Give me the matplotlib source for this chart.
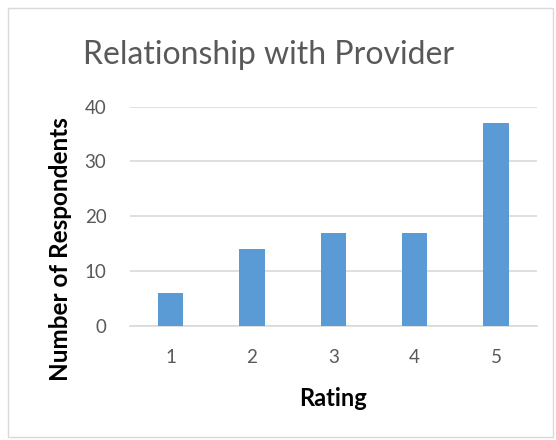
import matplotlib
matplotlib.use("Agg")
import matplotlib.pyplot as plt
from matplotlib.patches import Rectangle

categories = ["1", "2", "3", "4", "5"]
values = [6, 14, 17, 17, 37]
yticks = [0, 10, 20, 30, 40]

plt.rcParams['font.family'] = ['Lato', 'DejaVu Sans']

W, H = 556, 440
fig = plt.figure(figsize=(W/100, H/100), dpi=100)
ax = fig.add_axes([130/W, 1-325.7/H, (536.7-130)/W, (325.7-106.7)/H])

x = list(range(len(categories)))
ax.bar(x, values, width=0.31, color="#5B9BD5", zorder=3)
ax.set_xlim(-0.5, len(categories)-0.5)
ax.set_ylim(0, 40)
ax.set_yticks(yticks)
ax.set_xticks(x)
ax.set_xticklabels(categories)
ax.grid(axis='y', color='#D9D9D9', linewidth=1.2, zorder=0)
for s in ['top', 'right', 'left']:
    ax.spines[s].set_visible(False)
ax.spines['bottom'].set_color('#D9D9D9')
ax.spines['bottom'].set_linewidth(1.2)
ax.tick_params(axis='both', length=0, labelsize=13.5, colors='#595959')
ax.tick_params(axis='x', pad=17)
ax.tick_params(axis='y', pad=17)

fig.text(269/W, 1-55/H, "Relationship with Provider", ha='center', va='center',
         fontsize=23, color='#595959')
fig.text(61/W, 1-249/H, "Number of Respondents", ha='center', va='center',
         rotation=90, fontsize=17.5, fontweight='bold', color='black')
fig.text(333/W, 1-398/H, "Rating", ha='center', va='center',
         fontsize=17, fontweight='bold', color='black')

fig.patches.append(Rectangle((8/W, 1-437/H), (553-8)/W, (437-8)/H,
                             transform=fig.transFigure, fill=False,
                             edgecolor='#D9D9D9', linewidth=1))

fig.savefig("out.png", dpi=100, facecolor='white')
